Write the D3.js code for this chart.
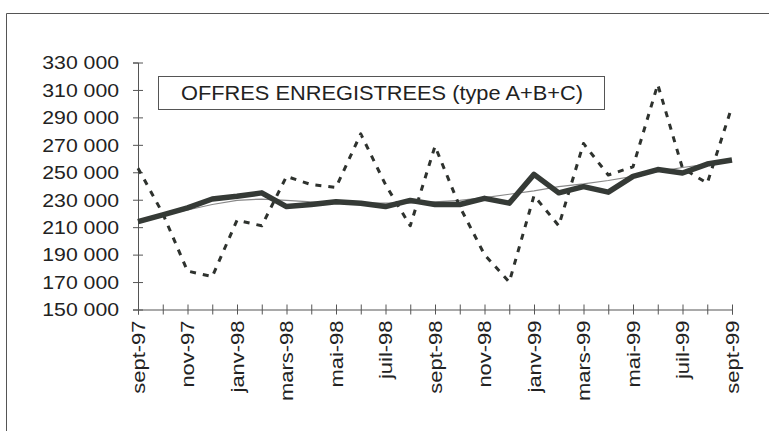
<!DOCTYPE html>
<html>
<head>
<meta charset="utf-8">
<script src="https://cdn.jsdelivr.net/npm/d3@7"></script>
<style>
  html, body { margin: 0; padding: 0; background: #ffffff; }
  svg { display: block; }
  text { font-family: "Liberation Sans", Arial, sans-serif; fill: #222; }
</style>
</head>
<body>
<svg id="chart" width="769" height="431"></svg>
<script>
// ---- Data ----
const months = ["sept-97","oct-97","nov-97","déc-97","janv-98","févr-98","mars-98","avr-98","mai-98","juin-98","juil-98","août-98","sept-98","oct-98","nov-98","déc-98","janv-99","févr-99","mars-99","avr-99","mai-99","juin-99","juil-99","août-99","sept-99"];
const labeledMonths = ["sept-97","nov-97","janv-98","mars-98","mai-98","juil-98","sept-98","nov-98","janv-99","mars-99","mai-99","juil-99","sept-99"];
// raw series (dashed)
const rawValues = [253000,220000,178000,174000,215000,211000,247000,241000,239000,278000,241000,211000,269000,225000,190000,170000,233000,211000,271000,248000,254000,314000,253000,242000,298000];
// seasonally adjusted series (thick solid)
const cvsValues = [214000,219000,224000,230500,232500,235000,225000,226500,228500,227500,225000,229500,226500,226500,231000,227500,248500,235000,239500,235500,247000,252000,249500,256000,259000];
// trend series (thin)
const trendValues = [214000,218500,222500,226500,229500,230500,229500,228500,228000,227500,227500,227500,228500,229500,231500,234000,236500,239500,241500,244000,247000,250500,253500,256000,258500];
const yTicks = [150000,170000,190000,210000,230000,250000,270000,290000,310000,330000];
const legendText = "OFFRES ENREGISTREES (type A+B+C)";

// ---- Chart ----
const svg = d3.select("#chart");
const x = d3.scalePoint().domain(months).range([138, 732]);
const y = d3.scaleLinear().domain([150000, 330000]).range([309.5, 62.5]);
const fmt = d3.formatLocale({decimal: ",", thousands: " ", grouping: [3], currency: ["", " €"]}).format(",d");

// outer frame (cut at right/bottom)
svg.append("path")
  .attr("d", "M6.5,431 L6.5,13.5 L769,13.5")
  .attr("fill", "none").attr("stroke", "#555").attr("stroke-width", 1);

// y axis
const gy = svg.append("g").attr("transform", "translate(138,0)")
  .call(d3.axisLeft(y).tickValues(yTicks).tickSize(5).tickPadding(0).tickFormat(""));
gy.select(".domain").attr("stroke", "#555");
gy.selectAll(".tick line").attr("x1", -5).attr("x2", 5).attr("stroke", "#555");
gy.selectAll(".tick").append("text")
  .attr("transform", "translate(-19,0) scale(1.18,1)")
  .attr("text-anchor", "end").attr("dy", "0.35em")
  .style("font-size", "18px").attr("fill", "#222")
  .text(d => fmt(d));

// x axis
const gx = svg.append("g").attr("transform", "translate(0,309.5)")
  .call(d3.axisBottom(x).tickSize(5).tickFormat(""));
gx.select(".domain").attr("stroke", "#555");
gx.selectAll(".tick line").attr("y1", -5).attr("y2", 5).attr("stroke", "#555");
gx.selectAll(".tick").filter(d => labeledMonths.includes(d)).append("text")
  .attr("transform", "translate(0,11) rotate(-90) scale(1.22,1)")
  .attr("text-anchor", "end").attr("dy", "0.35em")
  .style("font-size", "18px").attr("fill", "#222")
  .text(d => d);

// legend box
svg.append("rect").attr("x", 158.5).attr("y", 76.5).attr("width", 446).attr("height", 33)
  .attr("fill", "#fff").attr("stroke", "#555").attr("stroke-width", 1);
svg.append("text").attr("transform", "translate(181,100) scale(1.09,1)")
  .style("font-size", "20px").attr("fill", "#222").text(legendText);

const line = d3.line().x((d, i) => x(months[i])).y(d => y(d));

// trend
svg.append("path").datum(trendValues).attr("d", line)
  .attr("fill", "none").attr("stroke", "#888").attr("stroke-width", 1.2);
// raw dashed
svg.append("path").datum(rawValues).attr("d", line)
  .attr("fill", "none").attr("stroke", "#2e322e").attr("stroke-width", 3)
  .attr("stroke-dasharray", "6,7").attr("stroke-linejoin", "round");
// seasonally adjusted thick
svg.append("path").datum(cvsValues).attr("d", line)
  .attr("fill", "none").attr("stroke", "#353a36").attr("stroke-width", 5.5)
  .attr("stroke-linejoin", "round");
</script>
</body>
</html>
